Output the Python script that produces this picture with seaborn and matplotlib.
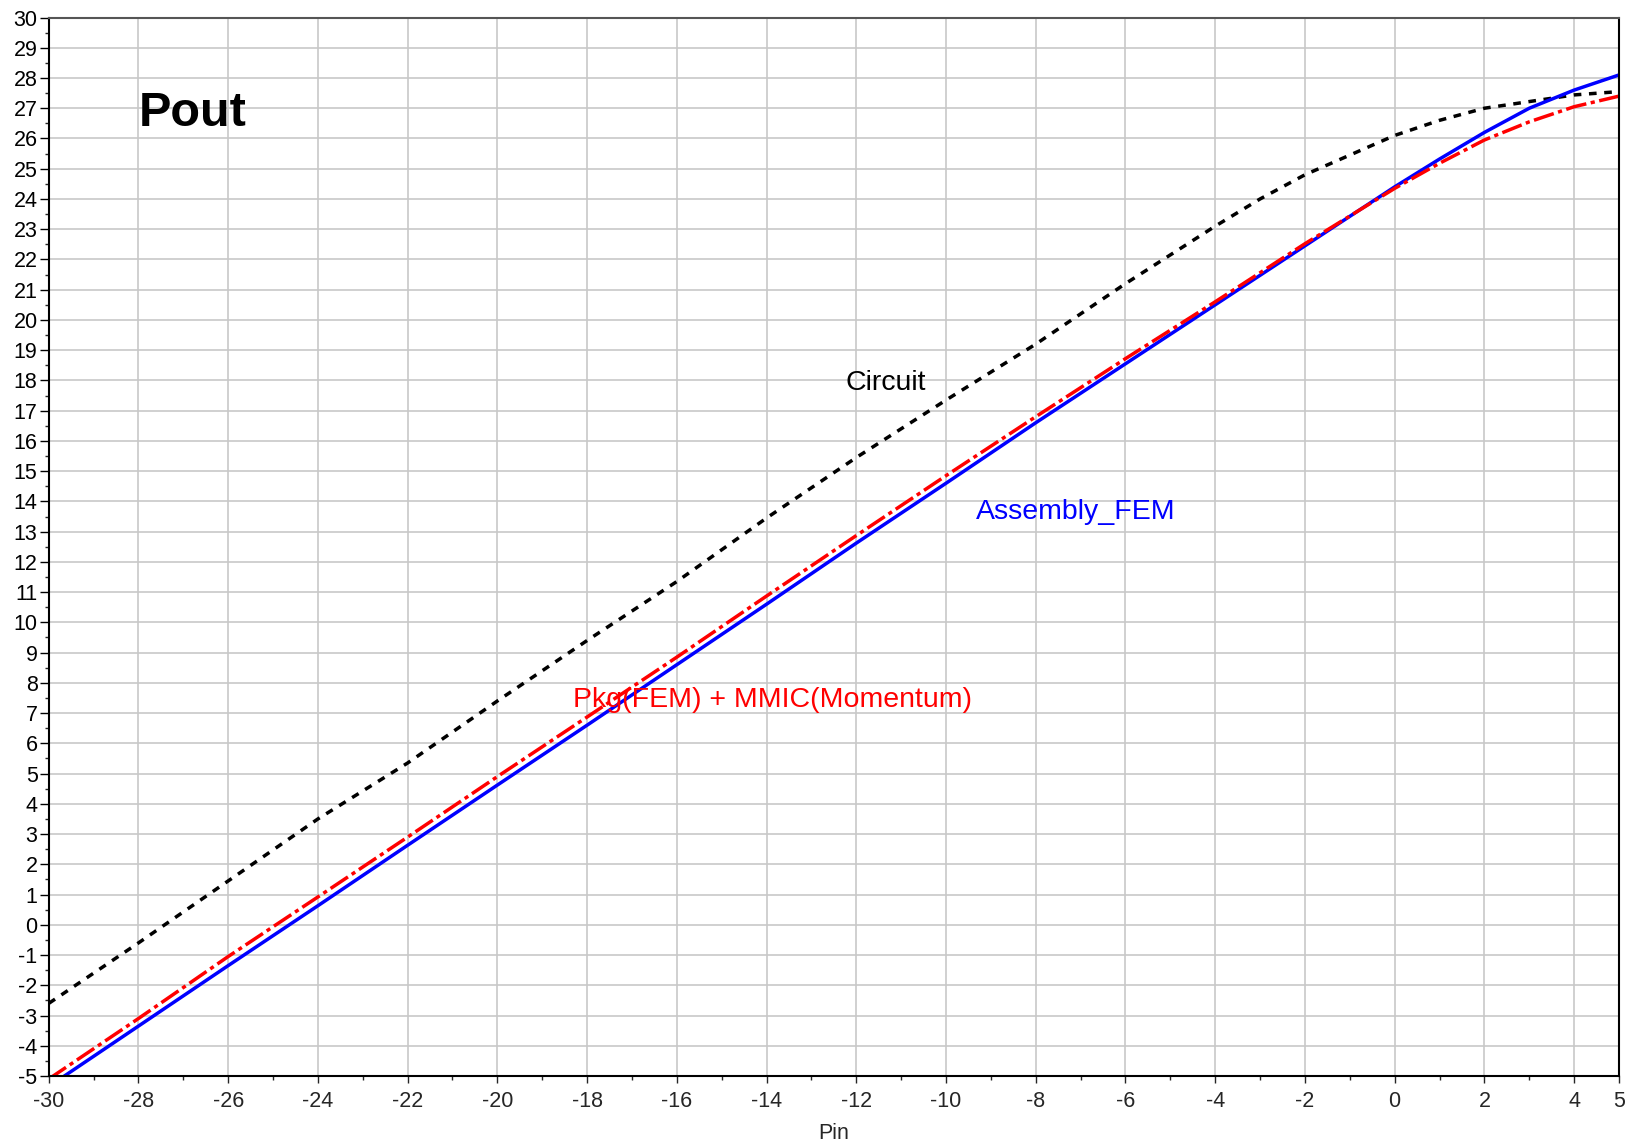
import numpy as np
import pandas as pd
import matplotlib
matplotlib.use("Agg")
import matplotlib.pyplot as plt
import seaborn as sns

# ---- data ----
pin_circuit = [-30, -28, -26, -24, -22, -20, -18, -16, -14, -12, -10, -8, -6, -4, -3, -2, -1, 0, 1, 2, 3, 4, 5]
pout_circuit = [-2.6, -0.6, 1.45, 3.5, 5.35, 7.4, 9.4, 11.35, 13.45, 15.45, 17.35, 19.2, 21.2, 23.1, 24.0,
                24.8, 25.45, 26.1, 26.6, 27.0, 27.22, 27.44, 27.55]

pin_fem = [-30, -28, -26, -24, -22, -20, -18, -16, -14, -12, -10, -8, -6, -4, -2, 0, 1, 2, 3, 4, 5]
pout_assembly = [-5.35, -3.35, -1.35, 0.63, 2.63, 4.62, 6.6, 8.6, 10.6, 12.62, 14.6, 16.6, 18.55, 20.5,
                 22.45, 24.4, 25.32, 26.2, 27.0, 27.6, 28.1]
pout_pkg = [-5.1, -3.1, -1.05, 0.92, 2.9, 4.9, 6.87, 8.85, 10.87, 12.87, 14.85, 16.8, 18.72, 20.6,
            22.52, 24.35, 25.18, 25.95, 26.55, 27.05, 27.4]

x_major = [-30, -28, -26, -24, -22, -20, -18, -16, -14, -12, -10, -8, -6, -4, -2, 0, 2, 4, 5]
x_minor = [-29, -27, -25, -23, -21, -19, -17, -15, -13, -11, -9, -7, -5, -3, -1, 1, 3]
y_major = list(range(-5, 31))
y_minor = [v + 0.5 for v in range(-5, 30)]

labels = {"Circuit": "Circuit", "Assembly": "Assembly_FEM", "Pkg": "Pkg(FEM) + MMIC(Momentum)"}

# ---- style ----
sns.set_style("white")
plt.rcParams["font.family"] = ["Liberation Sans", "DejaVu Sans"]
plt.rcParams["xtick.minor.visible"] = False
plt.rcParams["ytick.minor.visible"] = False

fig = plt.figure(figsize=(16.35, 11.44), dpi=100)
ax = fig.add_axes([0.02979, 0.05944, 0.96042, 0.92526])

sns.lineplot(x=pin_circuit, y=pout_circuit, ax=ax, color="black", lw=2.5,
             linestyle=(0, (2.2, 2.2)), estimator=None, sort=False)
sns.lineplot(x=pin_fem, y=pout_assembly, ax=ax, color="#0000ff", lw=2.5,
             estimator=None, sort=False)
sns.lineplot(x=pin_fem, y=pout_pkg, ax=ax, color="#ff0000", lw=2.5,
             linestyle=(0, (6, 1.3, 1.2, 1.3)), estimator=None, sort=False)

ax.set_xlim(-30, 5)
ax.set_ylim(-5, 30)
ax.set_xticks(x_major)
ax.set_xticks(x_minor, minor=True)
ax.set_yticks(y_major)
ax.set_yticks(y_minor, minor=True)
ax.set_xticklabels([str(v) for v in x_major])
ax.set_yticklabels([str(v) for v in y_major])

ax.grid(True, which="major", color="#c8c8c8", lw=1.2)
ax.set_axisbelow(True)

ax.tick_params(axis="y", which="major", direction="out", length=6.5, width=1, pad=1.5,
               labelsize=15.5, left=True, colors="black")
ax.tick_params(axis="y", which="minor", direction="out", length=3, width=1, left=True)
ax.tick_params(axis="x", which="major", direction="out", length=5, width=1, pad=6,
               labelsize=15.5, bottom=True)
ax.tick_params(axis="x", which="minor", direction="out", length=3, width=1, bottom=True)

for side in ["left", "bottom", "right"]:
    ax.spines[side].set_color("black")
    ax.spines[side].set_linewidth(1.5)
ax.spines["top"].set_color("#555555")
ax.spines["top"].set_linewidth(1.5)

ax.set_xlabel("Pin", fontsize=15.5, labelpad=8)
ax.set_ylabel("")

ax.text(-28.0, 26.4, "Pout", fontsize=35, fontweight="bold", color="black", va="baseline", ha="left")
ax.text(-12.23, 17.68, labels["Circuit"], fontsize=20.5, color="black", va="baseline", ha="left")
ax.text(-9.33, 13.41, labels["Assembly"], fontsize=20.5, color="#0000ff", va="baseline", ha="left")
ax.text(-18.31, 7.21, labels["Pkg"], fontsize=20.5, color="#ff0000", va="baseline", ha="left")

fig.savefig("out.png", dpi=100)
